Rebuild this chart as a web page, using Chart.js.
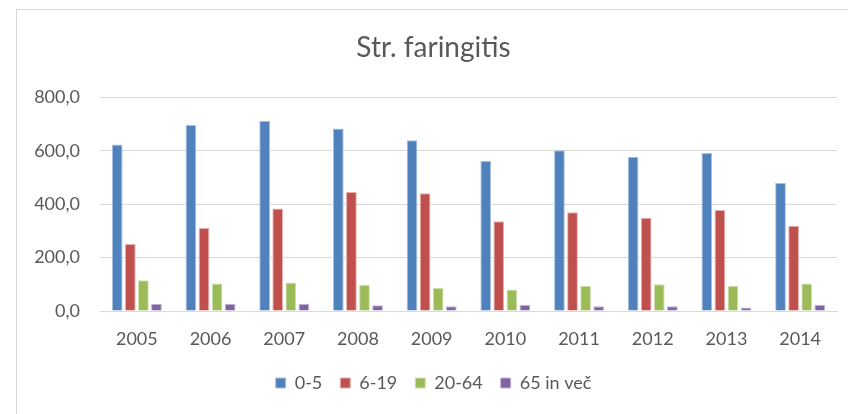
<!DOCTYPE html>
<html lang="sl">
<head>
<meta charset="UTF-8">
<title>Str. faringitis</title>
<style>
    html, body { margin: 0; padding: 0; background: #ffffff; }
    /* okvir grafa, desni in spodnji rob sta izven slike */
    .frame {
        position: absolute; left: 16px; top: 9px;
        width: 900px; height: 500px;
        border: 1px solid #d9d9d9;
    }
    .wrap { position: absolute; left: 0; top: 0; width: 848px; height: 414px; }
</style>
</head>
<body>
<div class="frame"></div>
<div class="wrap"><canvas id="chart" width="848" height="414"></canvas></div>

<script src="https://cdn.jsdelivr.net/npm/chart.js"></script>
<script>
    // podatki odčitani s slike
    const years = ['2005', '2006', '2007', '2008', '2009', '2010', '2011', '2012', '2013', '2014'];
    const age0to5 = [624, 697, 713, 684, 640, 562, 603, 578, 592, 480];
    const age6to19 = [251, 311, 384, 446, 441, 336, 370, 350, 379, 320];
    const age20to64 = [115, 103, 107, 98, 86, 81, 95, 100, 95, 103];
    const age65plus = [27, 27, 27, 22, 18, 23, 18, 18, 13, 23];
    const yTicks = [0, 200, 400, 600, 800];

    const font = 'Lato, "Open Sans", sans-serif';
    const grey = '#595959';

    function series(label, data, color, edge) {
        return {
            label: label,
            data: data,
            backgroundColor: color,
            borderColor: edge,
            borderWidth: 1,
            barPercentage: 0.82,
            categoryPercentage: 0.71
        };
    }

    new Chart(document.getElementById('chart'), {
        type: 'bar',
        data: {
            labels: years,
            datasets: [
                series('0-5', age0to5, '#4f81bd', '#a7c0de'),
                series('6-19', age6to19, '#c0504d', '#e6b0ae'),
                series('20-64', age20to64, '#9bbb59', '#cfe0b0'),
                series('65 in več', age65plus, '#8064a2', '#c2b3d4')
            ]
        },
        options: {
            responsive: false,
            animation: false,
            layout: { padding: { left: 30, right: 11, top: 31, bottom: 12 } },
            plugins: {
                title: {
                    display: true,
                    text: 'Str. faringitis',
                    color: grey,
                    font: { family: font, size: 28, weight: 'normal' },
                    padding: { top: 0, bottom: 33 }
                },
                legend: {
                    position: 'bottom',
                    labels: {
                        color: grey,
                        font: { family: font, size: 18 },
                        boxWidth: 10,
                        boxHeight: 10,
                        padding: 18
                    }
                },
                tooltip: { enabled: false }
            },
            scales: {
                x: {
                    afterFit: function (axis) { axis.height = 45; },
                    grid: { display: false },
                    border: { color: '#d9d9d9' },
                    ticks: { color: grey, font: { family: font, size: 18 }, padding: 9 }
                },
                y: {
                    min: 0,
                    max: 800,
                    afterBuildTicks: function (axis) {
                        axis.ticks = yTicks.map(v => ({ value: v }));
                    },
                    afterFit: function (axis) { axis.width = 70; },
                    grid: { color: '#d9d9d9', drawTicks: false },
                    border: { display: false },
                    ticks: {
                        color: grey,
                        font: { family: font, size: 18 },
                        padding: 20,
                        callback: v => v.toFixed(1).replace('.', ',')
                    }
                }
            }
        }
    });
</script>
</body>
</html>
